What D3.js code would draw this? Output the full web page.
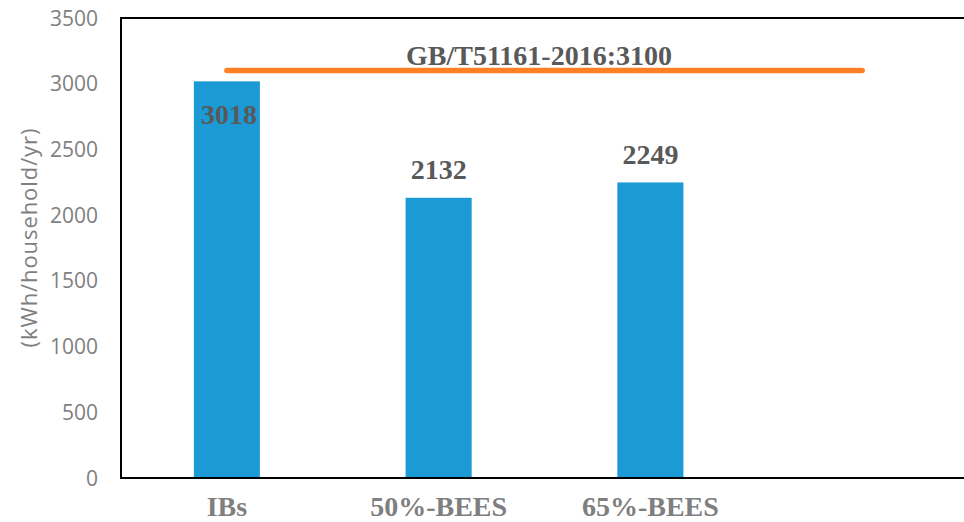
<!DOCTYPE html>
<html lang="en">
<head>
  <meta charset="UTF-8">
  <title>Household electricity use</title>
  <script src="https://d3js.org/d3.v7.min.js"></script>
  <style>
    body { margin: 0; background: #fff; }
    .tick-label { font-family: "Open Sans", sans-serif; font-size: 21px; fill: #7f7f7f; }
    .y-title { font-family: "Open Sans", sans-serif; font-size: 22px; fill: #7f7f7f; }
    .cat-label { font-family: "Liberation Serif", "Times New Roman", serif; font-weight: bold; font-size: 28px; fill: #7f7f7f; }
    .val-label { font-family: "Liberation Serif", "Times New Roman", serif; font-weight: bold; font-size: 28px; fill: #595959; }
    .frame { stroke: #000; stroke-width: 2px; fill: none; }
  </style>
</head>
<body>
<svg id="chart" width="964" height="522"></svg>
<script>
  // categories (the 4th slot is empty, the standard line runs into it)
  const categories = ["IBs", "50%-BEES", "65%-BEES", ""];
  const usage = [3018, 2132, 2249, null];
  const standard = [3100, 3100, 3100, 3100];
  const standardLabel = "GB/T51161-2016:3100";
  const yTicks = [0, 500, 1000, 1500, 2000, 2500, 3000, 3500];
  const yTitle = "(kWh/household/yr)";

  const svg = d3.select("#chart");
  const plot = { left: 121, right: 968, top: 18, bottom: 478 };

  const x = d3.scaleBand().domain(categories).range([plot.left, plot.right])
    .paddingInner(0.688).paddingOuter(0.344);
  const y = d3.scaleLinear().domain([0, 3500]).range([plot.bottom, plot.top]);

  // bars
  const barData = categories.map((c, i) => ({ c: c, v: usage[i] })).filter(d => d.v != null);
  svg.selectAll("rect.bar").data(barData).join("rect")
    .attr("class", "bar")
    .attr("x", d => x(d.c))
    .attr("width", x.bandwidth())
    .attr("y", d => y(d.v))
    .attr("height", d => y(0) - y(d.v))
    .attr("fill", "#1b9ad6");

  // frame: left axis, top line, bottom axis
  svg.append("line").attr("class", "frame")
    .attr("x1", plot.left).attr("x2", plot.left).attr("y1", plot.top - 1).attr("y2", plot.bottom + 1);
  svg.append("line").attr("class", "frame")
    .attr("x1", plot.left).attr("x2", 964).attr("y1", plot.top).attr("y2", plot.top);
  svg.append("line").attr("class", "frame")
    .attr("x1", plot.left).attr("x2", 964).attr("y1", plot.bottom).attr("y2", plot.bottom);

  // y tick labels
  svg.selectAll("text.tick-label").data(yTicks).join("text")
    .attr("class", "tick-label")
    .attr("x", 98)
    .attr("y", d => y(d))
    .attr("dy", "0.36em")
    .attr("text-anchor", "end")
    .text(d => d);

  // y title
  svg.append("text").attr("class", "y-title")
    .attr("transform", "translate(37,238) rotate(-90)")
    .attr("text-anchor", "middle")
    .attr("textLength", 219)
    .attr("lengthAdjust", "spacing")
    .text(yTitle);

  // category labels
  svg.selectAll("text.cat-label").data(categories.filter(c => c)).join("text")
    .attr("class", "cat-label")
    .attr("x", d => x(d) + x.bandwidth() / 2)
    .attr("y", 516)
    .attr("text-anchor", "middle")
    .text(d => d);

  // standard line
  const line = d3.line()
    .x((d, i) => x(categories[i]) + x.bandwidth() / 2)
    .y(d => y(d));
  svg.append("path").datum(standard)
    .attr("d", line)
    .attr("fill", "none")
    .attr("stroke", "#ff7f27")
    .attr("stroke-width", 5.5)
    .attr("stroke-linecap", "round");

  svg.append("text").attr("class", "val-label")
    .attr("x", 539)
    .attr("y", 65)
    .attr("text-anchor", "middle")
    .text(standardLabel);

  // value labels: first one sits inside the bar, others above
  svg.selectAll("text.bar-val").data(barData).join("text")
    .attr("class", "val-label bar-val")
    .attr("x", d => x(d.c) + x.bandwidth() / 2 + (d.c === "IBs" ? 2 : 0))
    .attr("y", (d, i) => i === 0 ? y(d.v) + 43 : y(d.v) - 18.5)
    .attr("text-anchor", "middle")
    .text(d => d.v);
</script>
</body>
</html>
